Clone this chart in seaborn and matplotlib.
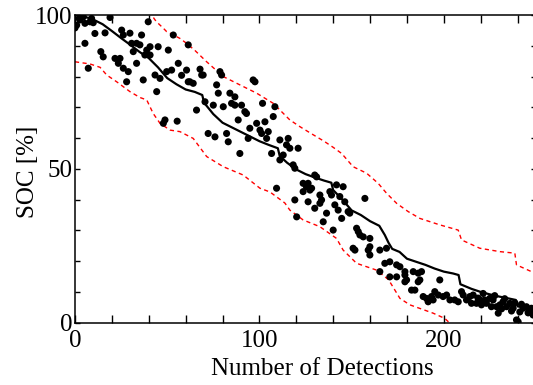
import matplotlib
matplotlib.use('Agg')
import matplotlib.pyplot as plt
import seaborn as sns
from matplotlib.ticker import MultipleLocator

det = [0.0, 0.9, 2.3, 2.7, 4.5, 5.4, 5.4, 7.2, 8.1, 9.0, 9.9, 10.8, 14.0, 15.3, 16.3, 19.0,
       21.7, 23.5, 24.4, 25.3, 26.2, 26.2, 28.0, 28.9, 29.8, 30.7, 31.6, 33.4, 33.4, 35.2,
       36.1, 37.0, 37.9, 38.9, 39.7, 40.7, 40.7, 43.4, 44.3, 45.1, 46.1, 47.9, 48.8, 49.7,
       50.6, 52.4, 53.3, 55.4, 56.0, 57.8, 61.4, 61.4,
       60.5, 62.3, 64.1, 65.9, 67.8, 68.7, 69.5, 70.5, 72.2, 75.0, 75.9, 76.8, 77.7, 78.6,
       79.5, 80.4, 82.2, 83.1, 84.0, 84.9, 86.7, 86.7, 88.5, 89.4, 90.3, 92.1, 93.0, 93.9,
       94.8, 96.6, 97.6, 98.5, 100.3, 101.2, 101.7, 103.0, 103.9, 104.8, 106.6, 107.5, 108.4,
       109.3, 111.1, 111.1, 112.9, 114.7, 115.6, 116.5, 118.3, 119.2, 121.0,
       119.2, 120.2, 123.7, 123.7, 125.5, 126.4, 126.4, 127.4, 128.3, 130.0, 130.0, 131.0,
       132.8, 132.8, 133.7, 134.6, 136.4, 138.2, 139.1, 140.0, 140.9, 141.8, 142.7, 143.6,
       144.6, 145.4, 146.3, 148.1, 149.0, 150.8, 151.8, 152.7, 153.6, 154.5, 156.3, 157.2,
       159.0, 159.9, 159.9, 159.9, 165.3, 165.3, 168.0, 168.9, 170.7, 170.7, 174.4, 174.4,
       176.2, 178.9,
       178.9, 178.9, 179.8, 182.5, 183.4, 184.3, 186.1, 186.1, 187.0, 187.9, 188.8, 190.6,
       191.5, 193.3, 194.2, 195.1, 197.0, 197.8, 199.6, 201.5, 203.3, 205.9, 207.8, 209.6,
       210.5, 212.3, 214.1, 215.0, 215.9, 217.7, 218.5, 219.5, 220.4, 221.3, 222.2, 223.1,
       224.9, 225.8, 226.7, 227.6, 228.6, 229.5, 230.4, 231.3, 232.1, 233.0, 234.0, 235.8,
       236.7, 237.6, 238.5, 239.4, 240.3, 241.2, 242.1, 243.0, 244.8, 245.7, 246.6, 247.5,
       248.4, 249.3]
soc = [95.8, 96.7, 98.9, 98.4, 99.4, 97.3, 90.8, 82.7, 97.8, 98.9, 97.5, 94.0, 88.1, 86.4, 94.2, 99.2,
       85.9, 84.3, 85.9, 95.1, 93.5, 82.7, 78.3, 81.6, 94.1, 90.8, 88.1, 90.8, 84.3, 90.3,
       93.5, 78.9, 87.0, 88.6, 97.8, 89.7, 87.0, 80.5, 75.1, 89.7, 79.4, 64.8, 65.9, 81.6,
       88.6, 82.1, 93.5, 65.5, 84.3, 80.4, 90.3, 78.3,
       82.1, 78.3, 77.8, 69.1, 82.4, 80.5, 80.5, 71.8, 61.5, 70.7, 60.4, 77.3, 74.6, 81.6,
       80.5, 70.2, 61.5, 58.8, 74.6, 71.3, 73.4, 70.7, 65.9, 55.0, 70.7, 68.6, 68.0, 59.9,
       63.2, 78.9, 78.3, 64.8, 62.6, 61.5, 71.3, 65.3, 59.9, 62.1, 55.0, 67.0, 70.2,
       43.7, 59.4, 52.9, 54.5, 57.8, 59.9, 56.7, 51.3, 50.2, 56.7,
       39.9, 34.4, 45.3, 42.6, 44.2, 45.3, 39.3, 43.1, 43.7, 48.0, 37.2, 47.4,
       41.5, 38.8, 39.9, 32.8, 35.6, 42.6, 41.5, 30.1, 38.3, 44.8, 36.6, 41.0,
       33.9, 44.2, 39.3, 36.1, 35.6, 24.2, 23.6, 30.7, 29.6, 28.5, 27.9, 40.4,
       23.6, 27.4, 24.7, 22.0, 23.6, 16.6, 19.3, 24.2, 19.8, 14.9, 18.8, 14.9,
       18.2, 15.5,
       16.6, 13.3, 13.9, 10.6, 16.6, 10.6, 16.1, 13.3, 13.9, 16.6, 8.5, 7.9,
       6.8, 8.5, 7.4, 10.1, 9.0, 13.9, 8.5, 9.0, 7.4, 7.4, 6.8, 10.1,
       9.0, 7.4, 8.5, 6.3, 9.0, 6.3, 8.0, 7.4, 5.8, 9.5, 7.4, 6.3,
       7.9, 5.2, 7.4, 8.8, 5.2, 3.1, 5.8, 4.5, 6.8, 7.8, 5.2, 6.3,
       3.8, 4.7, 6.5, 0.9, 0.3, 3.5, 6.0, 4.7, 5.2, 3.2, 4.1, 4.7,
       2.5, 4.5]

# Estimated SOC (black step line)
est_x = [0, 5, 10, 15, 20, 25, 30, 35, 40, 45, 50, 55, 60, 65, 69, 70, 75, 80, 85, 90,
         95, 100, 105, 110, 111, 115, 120, 125, 130, 135, 139, 140, 145, 150, 155, 160, 165,
         168, 170, 172, 176, 180, 185, 190, 195, 200, 205, 208, 209, 215, 220, 225, 230,
         235, 239, 240, 245, 250]
est_y = [100, 99.5, 98.5, 97, 94.8, 92.5, 90.3, 88, 86, 83, 79.5, 77.5, 75.8, 75, 74, 71.5,
         67.8, 65, 63.5, 62, 60.5, 59, 57.8, 56.7, 54.2, 52, 49.8, 48.3, 47.2, 46.2, 45.5,
         43.1, 40, 36.5, 35, 33, 31.5, 28.5, 26, 24, 23, 20.8, 19.8, 18.8, 17.6, 16.6, 16,
         15.5, 12.5, 11, 10, 9.2, 8.5, 7.9, 7.4, 5.3, 4.8, 4.5]

# Upper / lower bounds (red dashed)
up_x = [0, 10, 20, 30, 38, 41.6, 43.4, 45.1, 47.9, 49.7, 51.5, 56.9, 60.5, 65, 71.4, 80.4,
        89.4, 98.5, 107.5, 116.5, 122, 128, 135, 140, 144.6, 150.8, 158.1, 164.4, 168.9,
        174.4, 180.7, 187, 197.8, 207.8, 209.6, 219.5, 230.4, 238.5, 239.4, 247.5, 250]
up_y = [114, 112, 109, 105, 101.5, 100, 98.4, 97.3, 95.7, 94.6, 94.1, 92.4, 90.8, 88.5, 84.8,
        80, 77.3, 74.6, 71.3, 65.9, 63.7, 61.5, 59, 57, 55, 50.7, 48.6, 45.3, 42.1, 38.8,
        36.1, 33.9, 31.8, 30.1, 26.9, 24.2, 23.1, 22.6, 18.8, 16.6, 15.5]
lo_x = [0, 8.1, 13.6, 17.2, 22.6, 29.8, 35.2, 38.9, 42.4, 46.1, 51.5, 56.9, 64.1, 71.4,
        80.4, 91.2, 100.3, 105.7, 113.8, 116.5, 123.7, 132.8, 141.8, 145.4, 152.7, 163.5,
        170, 176.2, 181.6, 194.2, 200.5, 203, 207]
lo_y = [84.8, 84.1, 83, 80.5, 78.3, 75.1, 73.2, 72.4, 68, 64.8, 62.6, 62.1, 59.9, 54, 50.7,
        48, 43.7, 42.5, 38.9, 36.6, 33.4, 31.2, 27.4, 23.6, 19.3, 17.1, 14, 7.9, 5.8, 3.1,
        1.4, 0, -2]

sns.set_style('ticks')
plt.rcParams['font.family'] = ['Liberation Serif', 'DejaVu Serif']

fig = plt.figure(figsize=(5.33, 3.85), dpi=100)
ax = fig.add_axes([0.1407, 0.1618, 0.865, 0.7992])

# bounds
for bx, by in ((up_x, up_y), (lo_x, lo_y)):
    sns.lineplot(x=bx, y=by, ax=ax, color='#ff0000', linewidth=1.0, sort=False,
                 estimator=None, dashes=False, linestyle=(0, (3, 2.5)))

# estimate
sns.lineplot(x=est_x, y=est_y, ax=ax, color='black', linewidth=1.6, sort=False,
             estimator=None)

# measurements
sns.scatterplot(x=det, y=soc, ax=ax, color='black', s=26, edgecolor='none', zorder=3)

ax.set_xlim(0, 250)
ax.set_ylim(0, 100)
ax.xaxis.set_major_locator(MultipleLocator(100))
ax.xaxis.set_minor_locator(MultipleLocator(20))
ax.yaxis.set_major_locator(MultipleLocator(50))
ax.yaxis.set_minor_locator(MultipleLocator(10))
ax.tick_params(which='both', direction='in', top=True, right=True, width=1.0,
               labelsize=18, colors='black')
ax.tick_params(axis='x', which='both', length=5.5, pad=5)
ax.tick_params(axis='y', which='both', length=3.8, pad=2)
for sp in ax.spines.values():
    sp.set_linewidth(1.1)
    sp.set_color('black')

ax.set_xlabel('Number of Detections', fontsize=18, color='black')
ax.set_ylabel('SOC [%]', fontsize=18, color='black')
ax.xaxis.set_label_coords(0.536, -0.115)
ax.yaxis.set_label_coords(-0.077, 0.49)

fig.savefig('out.png', dpi=100)
